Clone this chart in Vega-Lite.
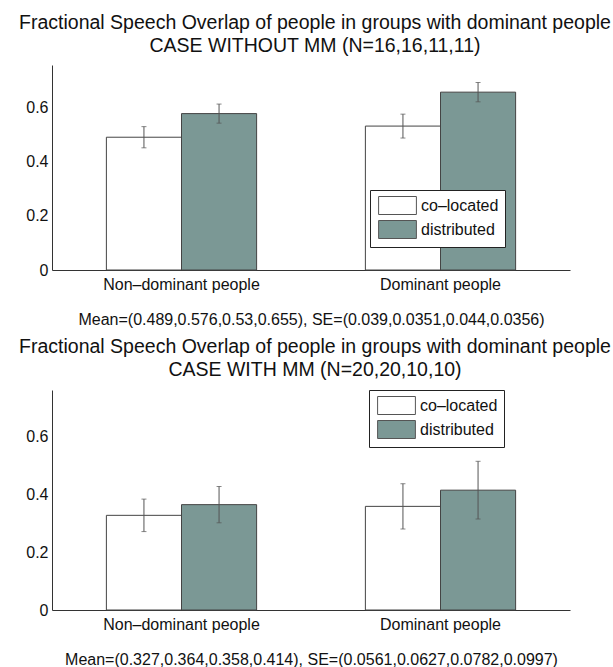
{
  "$schema": "https://vega.github.io/schema/vega-lite/v6.json",
  "padding": {"left": 19, "top": 12, "right": 0, "bottom": 0},
  "background": "white",
  "datasets": {
    "without": [
      {"group": "Non–dominant people", "series": "co–located", "mean": 0.489, "se": 0.039},
      {"group": "Non–dominant people", "series": "distributed", "mean": 0.576, "se": 0.0351},
      {"group": "Dominant people", "series": "co–located", "mean": 0.53, "se": 0.044},
      {"group": "Dominant people", "series": "distributed", "mean": 0.655, "se": 0.0356}
    ],
    "with": [
      {"group": "Non–dominant people", "series": "co–located", "mean": 0.327, "se": 0.0561},
      {"group": "Non–dominant people", "series": "distributed", "mean": 0.364, "se": 0.0627},
      {"group": "Dominant people", "series": "co–located", "mean": 0.358, "se": 0.0782},
      {"group": "Dominant people", "series": "distributed", "mean": 0.414, "se": 0.0997}
    ]
  },
  "config": {
    "font": "Liberation Sans",
    "view": {"stroke": null},
    "title": {"fontSize": 19.5, "fontWeight": "normal", "color": "#111", "lineHeight": 23, "anchor": "middle", "frame": "group", "offset": 9, "dx": 4, "font": "Liberation Sans"},
    "axis": {"labelFontSize": 16, "labelColor": "#111", "titleFontSize": 16, "titleFontWeight": "normal", "titleColor": "#111", "domainColor": "#333", "grid": false, "ticks": false, "labelFont": "Liberation Sans", "titleFont": "Liberation Sans"},
    "legend": {"labelFontSize": 16, "labelColor": "#111", "labelFont": "Liberation Sans", "strokeColor": "#222", "fillColor": "white", "padding": 6, "rowPadding": 1, "symbolOffset": 12, "labelOffset": 14, "symbolStrokeColor": "#555", "symbolStrokeWidth": 1, "symbolType": "M-2.1,-1L2.1,-1L2.1,1L-2.1,1Z", "symbolSize": 324, "symbolOpacity": 1, "cornerRadius": 0}
  },
  "spacing": 10,
  "resolve": {"scale": {"x": "independent", "y": "independent", "fill": "independent", "xOffset": "independent"}, "legend": {"fill": "independent"}},
  "vconcat": [
    {
      "width": 518,
      "height": 205,
      "data": {"name": "without"},
      "title": {"text": ["Fractional Speech Overlap of people in groups with dominant people", "CASE WITHOUT MM (N=16,16,11,11)"]},
      "encoding": {
        "x": {"field": "group", "type": "nominal", "scale": {"domain": ["Non–dominant people", "Dominant people"], "paddingInner": 0.42, "paddingOuter": 0.21},
              "axis": {"labelAngle": 0, "labelPadding": 6, "title": "Mean=(0.489,0.576,0.53,0.655), SE=(0.039,0.0351,0.044,0.0356)", "titlePadding": 19}},
        "xOffset": {"field": "series", "type": "nominal", "scale": {"domain": ["co–located", "distributed"], "paddingInner": 0, "paddingOuter": 0}}
      },
      "layer": [
        {
          "mark": {"type": "bar", "stroke": "#444", "strokeWidth": 1},
          "encoding": {
            "y": {"field": "mean", "type": "quantitative", "scale": {"domain": [0, 0.755], "nice": false},
                  "axis": {"values": [0, 0.2, 0.4, 0.6], "format": "~g", "title": null, "labelPadding": 4}},
            "fill": {"field": "series", "type": "nominal", "scale": {"domain": ["co–located", "distributed"], "range": ["#ffffff", "#7b9895"]},
                     "legend": {"title": null, "orient": "none", "legendX": 318, "legendY": 125}}
          }
        },
        {
          "mark": {"type": "errorbar", "color": "#555", "thickness": 1, "ticks": {"size": 5}},
          "encoding": {
            "y": {"field": "mean", "type": "quantitative"},
            "yError": {"field": "se"}
          }
        }
      ]
    },
    {
      "width": 518,
      "height": 220,
      "data": {"name": "with"},
      "title": {"text": ["Fractional Speech Overlap of people in groups with dominant people", "CASE WITH MM (N=20,20,10,10)"]},
      "encoding": {
        "x": {"field": "group", "type": "nominal", "scale": {"domain": ["Non–dominant people", "Dominant people"], "paddingInner": 0.42, "paddingOuter": 0.21},
              "axis": {"labelAngle": 0, "labelPadding": 6, "title": "Mean=(0.327,0.364,0.358,0.414), SE=(0.0561,0.0627,0.0782,0.0997)", "titlePadding": 19}},
        "xOffset": {"field": "series", "type": "nominal", "scale": {"domain": ["co–located", "distributed"], "paddingInner": 0, "paddingOuter": 0}}
      },
      "layer": [
        {
          "mark": {"type": "bar", "stroke": "#444", "strokeWidth": 1},
          "encoding": {
            "y": {"field": "mean", "type": "quantitative", "scale": {"domain": [0, 0.76], "nice": false},
                  "axis": {"values": [0, 0.2, 0.4, 0.6], "format": "~g", "title": null, "labelPadding": 4}},
            "fill": {"field": "series", "type": "nominal", "scale": {"domain": ["co–located", "distributed"], "range": ["#ffffff", "#7b9895"]},
                     "legend": {"title": null, "orient": "none", "legendX": 317, "legendY": 0}}
          }
        },
        {
          "mark": {"type": "errorbar", "color": "#555", "thickness": 1, "ticks": {"size": 5}},
          "encoding": {
            "y": {"field": "mean", "type": "quantitative"},
            "yError": {"field": "se"}
          }
        }
      ]
    }
  ]
}
